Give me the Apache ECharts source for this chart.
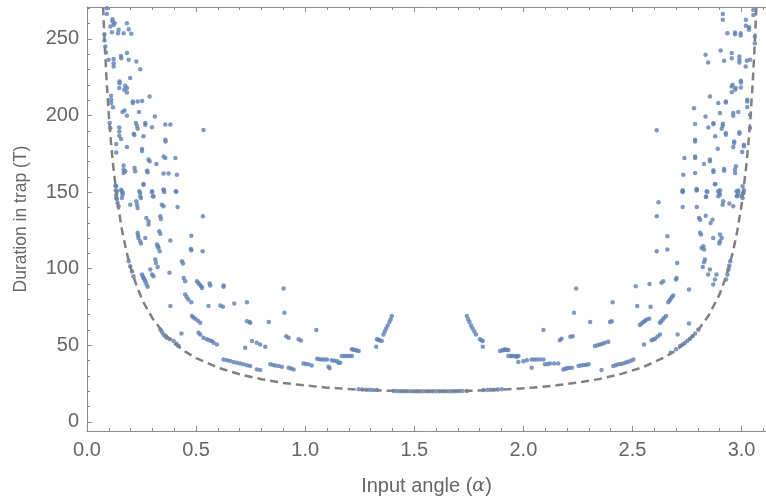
<!DOCTYPE html>
<html><head><meta charset="utf-8">
<script src="https://cdn.jsdelivr.net/npm/echarts@6/dist/echarts.min.js"></script>
<style>html,body{margin:0;padding:0;background:#fff}#c{width:766px;height:501px}</style>
</head><body><div id="c"></div>
<script>
// ---- tick values ----
var xMajorTicks = [0, 0.5, 1.0, 1.5, 2.0, 2.5, 3.0];
var xMinorTicks = [0.1,0.2,0.3,0.4,0.6,0.7,0.8,0.9,1.1,1.2,1.3,1.4,1.6,1.7,1.8,1.9,2.1,2.2,2.3,2.4,2.6,2.7,2.8,2.9,3.1];
var yMajorTicks = [0, 50, 100, 150, 200, 250];
var yMinorTicks = [10,20,30,40,60,70,80,90,110,120,130,140,160,170,180,190,210,220,230,240,260,270];

// ---- lower bound curve (dashed) ----
var boundAlpha = [0.074,0.08,0.09,0.10,0.11,0.12,0.14,0.16,0.18,0.20,0.23,0.26,0.30,0.35,0.40,0.45,0.50,0.60,0.70,0.80,0.90,1.00,1.10,1.20,1.30,1.40,1.50,1.57,1.65,1.75,1.85,1.95,2.05,2.15,2.25,2.35,2.45,2.55,2.65,2.70,2.75,2.80,2.85,2.90,2.93,2.96,2.98,3.00,3.02,3.03,3.04,3.05,3.06,3.068];
var boundT = [270.6,250.3,222.5,200.3,182.2,167.1,143.3,125.5,111.7,100.7,87.7,77.8,67.7,58.3,51.3,45.9,41.7,35.4,31.1,27.9,25.5,23.8,22.4,21.5,20.7,20.3,20.05,20,20.06,20.3,20.8,21.5,22.5,23.9,25.7,28.1,31.4,35.9,42.4,46.8,52.4,59.7,69.6,83.6,95.2,110.7,124.3,141.7,164.9,179.5,197.2,218.6,245.4,271];

// ---- simulated trap durations: [alpha, T] ----
var leftHigh = [[0.091,270],[0.091,266.3],[0.160,271],[0.117,262.8],[0.117,261.3],[0.107,258],[0.122,259.1],[0.127,260.2],[0.114,254.3],[0.142,253.7],[0.145,255.9],[0.183,260.2],[0.191,256.3],[0.203,253.3],[0.168,253.7],[0.080,253],[0.080,249],[0.084,245],[0.087,241.1],[0.099,236.3],[0.122,236.8],[0.122,234.1],[0.122,232],[0.156,238.9],[0.157,237.4],[0.183,240.7],[0.191,236.3],[0.226,235.2],[0.244,230.2],[0.149,222.2],[0.149,221.1],[0.198,224.4],[0.148,217.9],[0.175,219.4],[0.183,217.9],[0.183,215],[0.171,216.8],[0.110,212.9],[0.111,210.3],[0.111,208.1],[0.119,205.3],[0.210,209.2],[0.210,208.1],[0.232,209.2],[0.253,209.4],[0.287,212.4],[0.163,202.2],[0.172,203.3],[0.183,199.8],[0.238,202.2],[0.311,199.4],[0.104,195.1],[0.107,191.8],[0.148,192.2],[0.148,189.6],[0.148,186.8],[0.224,195.1],[0.229,193.3],[0.232,191.4],[0.267,195.1],[0.267,194],[0.298,192.4],[0.359,194.2],[0.382,194.2],[0.134,181.4],[0.134,175.9],[0.156,184.6],[0.183,179.4],[0.214,188.1],[0.217,187.2],[0.259,186.4],[0.252,178.1],[0.252,176.8],[0.359,184.2],[0.360,183.1],[0.168,167.3],[0.168,164.7],[0.168,162.5],[0.175,163.6],[0.218,165.7],[0.221,163.6],[0.275,164],[0.278,162.9],[0.282,171.2],[0.287,170.1],[0.318,168.3],[0.351,173.3],[0.359,172.3],[0.405,172.3],[0.351,162.1],[0.374,162.1],[0.412,161.4],[0.259,155.3],[0.134,153.8],[0.137,150.5],[0.134,146.2],[0.156,151.6],[0.163,149.5],[0.240,150.5],[0.244,147.3],[0.298,149.9],[0.302,147.3],[0.351,151.6],[0.409,150.3],[0.534,190.5]];

var leftLow = [[0.130,154.2],[0.132,151],[0.134,148.3],[0.137,145.5],[0.140,142.9],[0.145,140.7],[0.160,150.5],[0.163,148.3],[0.160,146.2],[0.198,141.8],[0.226,144],[0.229,141.8],[0.232,139.6],[0.244,149.4],[0.247,146.2],[0.259,154.8],[0.298,150.5],[0.305,147.2],[0.351,151.6],[0.354,150.1],[0.407,150.5],[0.343,141.8],[0.351,140.7],[0.415,140.3],[0.272,133.1],[0.282,131],[0.282,128.8],[0.336,134.2],[0.339,132.5],[0.531,134.2],[0.232,123.4],[0.234,121.8],[0.236,120.1],[0.244,117.9],[0.247,116.4],[0.267,120.1],[0.331,124.4],[0.336,122.9],[0.382,118.4],[0.478,121.6],[0.321,115.8],[0.325,114.6],[0.328,113.6],[0.333,111.4],[0.476,112.9],[0.478,112.1],[0.530,111.4],[0.191,104.9],[0.198,101.6],[0.206,98.4],[0.213,95.1],[0.252,96.2],[0.256,95],[0.259,94],[0.263,93],[0.267,91.9],[0.272,90],[0.278,88.2],[0.313,106],[0.316,103.8],[0.290,99.5],[0.298,96.2],[0.305,95.1],[0.324,101.2],[0.378,97.3],[0.435,104.9],[0.440,103.4],[0.443,94],[0.450,91.9],[0.504,91.9],[0.510,90.8],[0.516,89.7],[0.524,88.6],[0.527,87.5],[0.562,90.3],[0.565,89],[0.626,89],[0.626,88.2],[0.450,83.2],[0.457,81.6],[0.465,79.9],[0.478,78.2],[0.382,75.6],[0.557,75.6],[0.611,76],[0.623,75.2],[0.675,77.3],[0.733,78.2],[0.481,69.1],[0.488,68.2],[0.496,67.3],[0.508,66],[0.519,64.7],[0.511,58.2],[0.519,57.1],[0.534,55],[0.549,53.9],[0.560,53.4],[0.572,52.8],[0.580,51.7],[0.595,50.6],[0.433,57.8],[0.336,60.4],[0.343,58.8],[0.351,57.1],[0.359,56],[0.366,55],[0.380,54],[0.397,52.8],[0.410,51],[0.420,49.5],[0.725,48.4],[0.733,65.8],[0.745,65.2],[0.748,64.7],[0.756,52.8],[0.778,51.7],[0.794,50.6],[0.817,49.1],[0.626,40.8],[0.641,40.3],[0.656,39.8],[0.672,39.2],[0.687,38.7],[0.702,38.1],[0.717,37.6],[0.733,37],[0.748,36.5],[0.778,34.3],[0.794,33.9]];

var middle = [[0.901,87.1],[0.833,65.2],[0.905,71.2],[1.051,60],[0.913,56],[0.924,55],[0.970,53.9],[0.980,53.2],[0.840,37.6],[0.852,37.2],[0.863,36.9],[0.878,36.5],[0.893,36.1],[0.924,35.4],[0.935,34.9],[0.947,34.3],[0.992,38.2],[1.003,37.9],[1.015,37.6],[1.030,36.9],[1.107,36.1],[1.112,35],[1.055,41.3],[1.066,41],[1.077,40.8],[1.088,40.8],[1.100,40.8],[1.122,40.2],[1.133,40],[1.145,39.8],[1.153,38.7],[1.160,38.7],[1.168,43],[1.180,43],[1.191,43],[1.203,43],[1.214,43],[1.214,47.4],[1.222,47.1],[1.229,46.9],[1.237,46.6],[1.245,46.3],[1.325,49.1],[1.329,53.9],[1.335,53.6],[1.341,53.4],[1.351,52.8],[1.359,57.1],[1.365,59],[1.371,61],[1.378,63],[1.386,65.2],[1.392,67],[1.397,69.1],[1.245,21.3],[1.262,21.2],[1.28,21.1],[1.295,21],[1.31,20.9],[1.329,20.8],[1.405,20.2],[1.42,20.2],[1.435,20.1],[1.45,20.1],[1.465,20.1],[1.48,20.1],[1.495,20],[1.51,20],[1.525,20],[1.54,20],[1.555,20],[1.57,20],[1.585,20],[1.6,20],[1.615,20],[1.63,20],[1.645,20.1],[1.66,20.1],[1.675,20.1],[1.69,20.1],[1.705,20.2],[1.72,20.2],[1.741,20.2],[1.817,20.8],[1.835,20.9],[1.85,21],[1.865,21.1],[1.883,21.2],[1.901,21.3],[1.741,69.1],[1.747,67],[1.753,65.2],[1.760,63],[1.767,61],[1.775,59],[1.783,57.1],[1.801,53.9],[1.808,53.4],[1.814,52.8],[1.814,49.1],[1.893,46.3],[1.905,46.8],[1.916,47.4],[1.931,46.9],[1.931,43],[1.942,43],[1.954,43],[1.966,43],[1.977,43],[1.977,39.1]];

var rightLow = [[1.909,46.9],[1.924,46.9],[1.947,43],[1.970,42.6],[2.000,39.7],[2.016,40.2],[2.038,40.8],[2.050,40.8],[2.061,40.8],[2.076,40.8],[2.092,40.8],[2.038,35.4],[2.099,37.6],[2.111,37.9],[2.122,38.2],[2.141,38.2],[2.160,38.2],[2.092,60],[2.167,53.4],[2.175,54.3],[2.215,55.6],[2.226,56],[2.183,34.3],[2.191,34.6],[2.199,35],[2.210,35.2],[2.222,35.4],[2.253,36.5],[2.265,36.8],[2.276,37.1],[2.288,37.3],[2.299,37.6],[2.242,87.1],[2.232,71.2],[2.306,65.2],[2.328,49.5],[2.340,50],[2.351,50.6],[2.362,51.1],[2.374,51.7],[2.389,52.3],[2.358,33.9],[2.412,36.5],[2.423,37],[2.435,37.6],[2.447,37.9],[2.458,38.2],[2.470,38.8],[2.481,39.3],[2.493,40],[2.504,40.8],[2.397,65.2],[2.405,65.8],[2.409,78.2],[2.515,88.6],[2.578,90.1],[2.522,75.6],[2.534,63.2],[2.542,64.2],[2.550,65.2],[2.558,66],[2.565,66.9],[2.577,67.3],[2.583,75.2],[2.553,50.6],[2.588,53.4],[2.596,53.8],[2.603,54.3],[2.615,55.7],[2.626,57.1],[2.626,64.7],[2.632,65.8],[2.639,66.9],[2.646,68],[2.654,69.1],[2.633,90.8],[2.641,91.9],[2.664,78.2],[2.670,79.3],[2.675,80.4],[2.681,81.5],[2.687,82.5],[2.699,92.9],[2.702,94],[2.705,103.8],[2.611,111.4],[2.660,112.5],[2.660,121.2],[2.611,134.2],[2.619,143.3],[2.707,57.1],[2.675,45.2],[2.700,47.5],[2.718,49.5],[2.730,50.6],[2.741,51.7],[2.752,53],[2.764,54.3],[2.775,56],[2.787,57.8],[2.802,60.4],[2.759,64.3],[2.759,86.4]];

var rightHigh = [[2.730,150.5],[2.730,140.3],[2.795,151.6],[2.795,140.3],[2.840,150.5],[2.837,147.2],[2.878,155.1],[2.893,150.5],[2.901,148.3],[2.916,144],[2.913,141.8],[2.944,142.5],[2.962,140.7],[2.977,150.5],[2.980,147.7],[3.005,153.8],[3.008,149.4],[3.005,146.2],[2.805,133.1],[2.810,132],[2.836,134.6],[2.858,129.9],[2.867,132],[2.810,123.4],[2.814,122.3],[2.817,113.6],[2.825,114.7],[2.828,112.5],[2.870,120.1],[2.901,122.3],[2.909,120.1],[2.901,117.9],[2.898,116.4],[2.832,106],[2.828,104.2],[2.822,101.2],[2.855,99.5],[2.847,96.2],[2.885,96.2],[2.878,93],[2.870,89.7],[2.948,104.9],[2.944,102],[2.940,99.5],[2.935,96],[2.929,93],[3.054,268.9],[3.054,265.6],[2.914,266.3],[2.914,262.4],[3.020,262.4],[3.020,258.5],[3.034,257.6],[3.034,255.9],[2.935,253.7],[2.970,254.1],[2.970,253],[2.996,253.7],[2.996,252.2],[3.061,251.5],[3.061,247.2],[2.904,242.4],[2.835,239.6],[2.847,234.6],[2.955,240.7],[2.955,237.4],[2.920,235.7],[2.990,238.5],[2.990,236.3],[2.990,234.6],[3.024,235.7],[3.039,236.3],[3.019,232],[2.997,222.6],[2.997,221.5],[2.959,220],[2.955,218.9],[2.973,217.9],[2.970,216.8],[2.997,218.3],[2.955,215.2],[2.855,212.4],[2.893,208.1],[2.928,209.2],[2.928,208.5],[3.026,210.3],[3.026,209.2],[3.026,205.5],[2.782,204.8],[2.901,201.6],[2.962,201.6],[2.962,199.8],[2.985,202.2],[2.835,199.4],[3.039,200.5],[2.611,190.3],[2.787,194.4],[2.848,192.2],[2.871,195],[2.871,194.4],[2.914,194.6],[2.914,193.3],[2.909,191.4],[2.928,188.5],[2.928,187.5],[2.990,189],[2.990,188.1],[3.039,191.8],[2.787,184.2],[2.787,183.1],[2.879,186.4],[2.891,178.3],[2.966,183.1],[2.966,182],[2.962,179.4],[3.011,180.9],[3.011,179.9],[3.003,176.2],[2.738,172.3],[2.787,173.3],[2.787,172.3],[2.828,168.3],[2.855,171.2],[2.855,170.1],[2.871,164.2],[2.871,163.1],[2.920,165.1],[2.920,164],[2.974,166.8],[2.970,164.7],[2.970,162.5],[2.733,161.4],[2.787,162.5],[2.879,155.3],[2.730,151.2],[2.730,150.1],[2.794,152.1],[2.794,151],[2.843,150.1],[2.901,151.2],[2.898,149.4],[2.893,147.3],[2.837,146.8],[2.985,151],[2.985,149.4],[2.978,147.3],[3.011,151.2],[3.008,149.4],[2.999,147.3]];

var FONT = "'Liberation Sans', Arial, sans-serif";
var AXC = '#8c8c8c', LBC = '#666666';
var xMin = 0, xMax = 3.112, yMin = -5.9, yMax = 270.8;

function xAx(pos, values, len, line, labels, name) {
  var a = {
    type: 'value', min: xMin, max: xMax, position: pos, gridIndex: 0,
    axisLine: { show: line, onZero: false, lineStyle: { color: AXC, width: 1 } },
    axisTick: { show: true, inside: true, length: len, customValues: values, lineStyle: { color: AXC, width: 1 } },
    axisLabel: { show: labels, customValues: values, fontFamily: FONT, fontSize: 20, color: LBC, margin: 9,
      formatter: function (v) { return v.toFixed(1); } },
    splitLine: { show: false }
  };
  if (name) {
    a.name = name; a.nameLocation = 'middle'; a.nameGap = 45;
    a.nameTextStyle = { fontFamily: FONT, fontSize: 20, color: LBC, rich: { i: { fontFamily: "'DejaVu Serif', serif", fontStyle: 'italic', fontSize: 19, color: LBC } } };
  }
  return a;
}
function yAx(values, len, line, labels, name) {
  var a = {
    type: 'value', min: yMin, max: yMax, position: 'left', gridIndex: 0,
    axisLine: { show: line, onZero: false, lineStyle: { color: AXC, width: 1 } },
    axisTick: { show: true, inside: true, length: len, customValues: values, lineStyle: { color: AXC, width: 1 } },
    axisLabel: { show: labels, customValues: values, fontFamily: FONT, fontSize: 20, color: LBC, margin: 8 },
    splitLine: { show: false }
  };
  if (name) {
    a.name = name; a.nameLocation = 'middle'; a.nameGap = 57; a.nameRotate = 90;
    a.nameTextStyle = { fontFamily: FONT, fontSize: 17.5, color: LBC };
  }
  return a;
}

var dotStyle = { color: '#5E81B5' };
function sc(data) {
  return { type: 'scatter', data: data, symbolSize: 4.5, itemStyle: dotStyle, xAxisIndex: 0, yAxisIndex: 0, z: 2, silent: true };
}

var chart = echarts.init(document.getElementById('c'), null, { renderer: 'canvas' });
chart.setOption({
  animation: false,
  backgroundColor: '#ffffff',
  grid: { left: 87, right: 0, top: 7, bottom: 69, containLabel: false },
  xAxis: [
    xAx('bottom', xMajorTicks, 5, true, true, 'Input angle ({i|α})'),
    xAx('bottom', xMinorTicks, 3, false, false),
    xAx('top', xMajorTicks, 5, true, false),
    xAx('top', xMinorTicks, 3, false, false)
  ],
  yAxis: [
    yAx(yMajorTicks, 5, true, true, 'Duration in trap (T)'),
    yAx(yMinorTicks, 3, false, false)
  ],
  series: [
    sc(leftHigh), sc(leftLow), sc(middle), sc(rightLow), sc(rightHigh),
    {
      type: 'line', xAxisIndex: 0, yAxisIndex: 0, z: 5, silent: true,
      data: boundAlpha.map(function (a, i) { return [a, boundT[i]]; }),
      symbol: 'none', smooth: false,
      lineStyle: { color: '#808080', width: 2.5, type: [8, 5] }
    }
  ]
});
</script></body></html>
